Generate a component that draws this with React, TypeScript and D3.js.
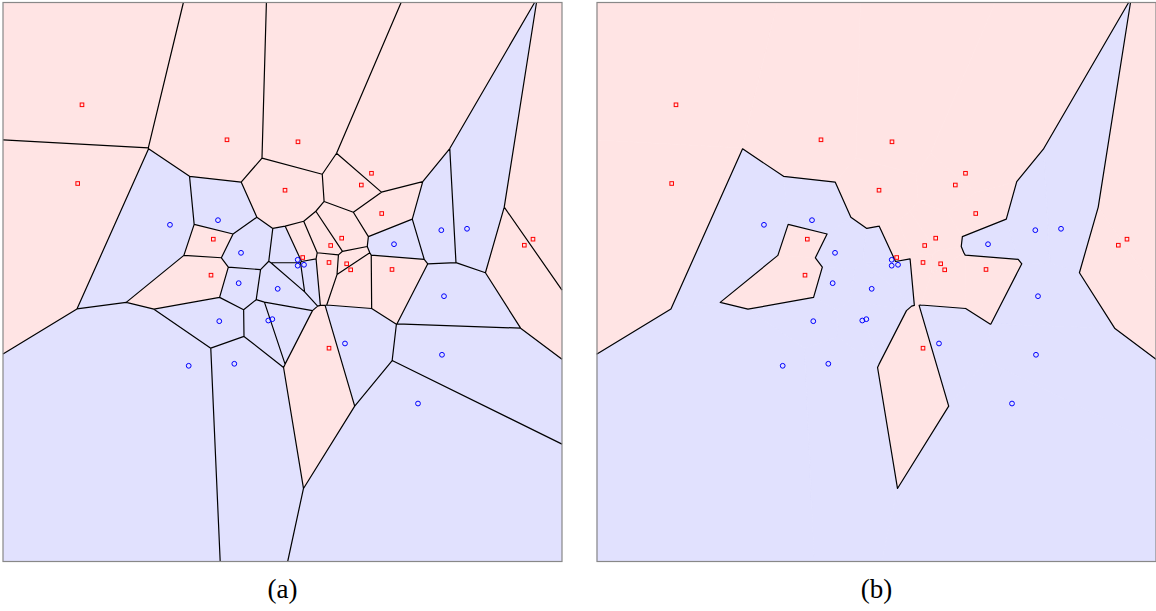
import React from "react";
import * as d3 from "d3";

// Two classes of sample points in a 0–100 square (y up).
const redX = [14.13, 13.36, 40.07, 52.77, 50.45, 65.92, 64.1, 67.75, 37.62, 60.59, 58.62, 53.61, 37.21, 58.32, 61.48, 62.2, 69.59, 94.81, 93.26, 58.32];
const redY = [81.7, 67.62, 75.44, 75.08, 66.42, 69.45, 67.35, 62.25, 57.66, 57.84, 56.53, 54.38, 51.22, 53.49, 53.26, 52.18, 52.24, 57.66, 56.58, 38.16];
const blueX = [29.87, 38.46, 42.58, 52.72, 52.72, 53.85, 42.16, 49.14, 69.95, 78.41, 83.01, 78.89, 38.69, 47.46, 48.18, 61.18, 78.53, 33.22, 41.38, 74.24];
const blueY = [60.23, 61.06, 55.22, 53.97, 52.92, 53.08, 49.79, 48.78, 56.76, 59.27, 59.52, 47.46, 42.99, 43.11, 43.35, 39.0, 36.98, 35.01, 35.37, 28.26];
const panelLabels = ["(a)", "(b)"];

const W = 1156;
const H = 611;
const SIZE = 559;
const TOP = 2.5;
const LEFTS = [3, 597];

const PINK = "#ffe4e4";
const LAVENDER = "#e1e1fe";
const RED = "#ff0000";
const BLUE = "#0000ff";

type Site = { x: number; y: number; cls: number };

const sites: Site[] = [
  ...redX.map((v, i) => ({ x: v, y: redY[i], cls: 0 })),
  ...blueX.map((v, i) => ({ x: v, y: blueY[i], cls: 1 })),
];

function Panel({ left, mode, label }: { left: number; mode: "cells" | "regions"; label: string }) {
  const x = d3.scaleLinear().domain([0, 100]).range([left, left + SIZE]);
  const y = d3.scaleLinear().domain([0, 100]).range([TOP + SIZE, TOP]);
  const delaunay = d3.Delaunay.from(sites, (d) => x(d.x), (d) => y(d.y));
  const voronoi = delaunay.voronoi([left, TOP, left + SIZE, TOP + SIZE]);
  const fill = (c: number) => (c === 0 ? PINK : LAVENDER);

  // Edges separating cells of different classes (decision boundary).
  const boundary: string[] = [];
  if (mode === "regions") {
    sites.forEach((s, i) => {
      const poly = voronoi.cellPolygon(i);
      if (!poly) return;
      const px = x(s.x);
      const py = y(s.y);
      for (let k = 0; k < poly.length - 1; k++) {
        const [ax, ay] = poly[k];
        const [bx, by] = poly[k + 1];
        const len = Math.hypot(bx - ax, by - ay);
        if (len < 1e-6) continue;
        const mx = (ax + bx) / 2;
        const my = (ay + by) / 2;
        let nx = -(by - ay) / len;
        let ny = (bx - ax) / len;
        if (nx * (mx - px) + ny * (my - py) < 0) {
          nx = -nx;
          ny = -ny;
        }
        const qx = mx + nx * 0.5;
        const qy = my + ny * 0.5;
        if (qx <= left || qx >= left + SIZE || qy <= TOP || qy >= TOP + SIZE) continue;
        const j = delaunay.find(qx, qy, i);
        if (j !== i && j > i && sites[j].cls !== s.cls) {
          boundary.push(`M${ax},${ay}L${bx},${by}`);
        }
      }
    });
  }

  return (
    <g>
      {sites.map((s, i) => (
        <path
          key={`c${i}`}
          d={voronoi.renderCell(i)}
          fill={fill(s.cls)}
          stroke={mode === "regions" ? fill(s.cls) : "none"}
          strokeWidth={mode === "regions" ? 0.8 : 0}
        />
      ))}
      {mode === "cells" ? (
        <path d={voronoi.render()} fill="none" stroke="#000" strokeWidth={1.2} />
      ) : (
        <path d={boundary.join("")} fill="none" stroke="#000" strokeWidth={1.2} strokeLinecap="round" />
      )}
      <rect x={left} y={TOP} width={SIZE} height={SIZE} fill="none" stroke="#888" strokeWidth={1.2} />
      {sites.map((s, i) =>
        s.cls === 0 ? (
          <rect
            key={`m${i}`}
            x={x(s.x) - 1.8}
            y={y(s.y) - 1.8}
            width={3.6}
            height={3.6}
            fill="none"
            stroke={RED}
            strokeWidth={1}
          />
        ) : (
          <circle key={`m${i}`} cx={x(s.x)} cy={y(s.y)} r={2.4} fill="none" stroke={BLUE} strokeWidth={1} />
        )
      )}
      <text
        x={left + SIZE / 2}
        y={598}
        textAnchor="middle"
        fontFamily="'Liberation Serif', 'DejaVu Serif', serif"
        fontSize={27}
        fill="#000"
      >
        {label}
      </text>
    </g>
  );
}

export default function App() {
  return (
    <svg
      width={W}
      height={H}
      viewBox={`0 0 ${W} ${H}`}
      style={{ position: "absolute", left: 0, top: 0, background: "#fff" }}
    >
      <rect x={0} y={0} width={W} height={H} fill="#fff" />
      <Panel left={LEFTS[0]} mode="cells" label={panelLabels[0]} />
      <Panel left={LEFTS[1]} mode="regions" label={panelLabels[1]} />
    </svg>
  );
}
